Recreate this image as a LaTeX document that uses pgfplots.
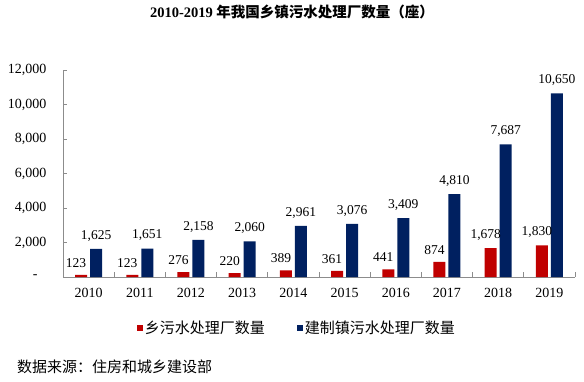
\documentclass[border=0pt]{standalone}
\usepackage{pgfplots}
\pgfplotsset{compat=1.18}
\usepackage{fontspec}
\setmainfont{Liberation Serif}
\newfontfamily\cjk{Noto Sans CJK SC}
\definecolor{myred}{HTML}{C00000}
\definecolor{mynavy}{HTML}{002060}
\definecolor{axgray}{HTML}{8C8C8C}
\begin{document}
\begin{tikzpicture}
\useasboundingbox (0,0) rectangle (584pt,381pt);
\node[font=\fontsize{14.5}{16}\selectfont\bfseries] at (292pt,369pt) {2010-2019 {\cjk 年我国乡镇污水处理厂数量（座）}};
\node[anchor=west, font=\fontsize{15}{17}\selectfont\cjk, inner sep=0pt] at (17pt,14pt) {数据来源：住房和城乡建设部};
\begin{axis}[
  at={(63pt,104pt)}, anchor=south west,
  scale only axis, width=512pt, height=207pt,
  xmin=-0.5, xmax=9.5, ymin=0, ymax=12000,
  ybar=3pt, bar width=12pt,
  axis x line*=bottom, axis y line*=left,
  axis line style={draw=axgray, line width=0.8pt},
  tick align=inside, major tick length=4pt, minor tick length=5pt,
  xtick={0,...,9},
  xticklabels={2010,2011,2012,2013,2014,2015,2016,2017,2018,2019},
  major x tick style={draw=none},
  minor xtick={-0.5,0.5,1.5,2.5,3.5,4.5,5.5,6.5,7.5,8.5,9.5},
  minor x tick style={draw=axgray, line width=0.8pt},
  scaled y ticks=false,
  ytick={0,2000,4000,6000,8000,10000,12000},
  yticklabels={{-\hspace*{9pt}},{2,000},{4,000},{6,000},{8,000},{10,000},{12,000}},
  major y tick style={draw=axgray, line width=0.8pt},
  tick label style={font=\fontsize{14}{16}\selectfont},
  yticklabel style={xshift=-13pt},
  xticklabel style={yshift=-8pt},
  /pgf/number format/1000 sep={,},
  /pgf/number format/assume math mode=true,
  nodes near coords,
  nodes near coords style={font=\fontsize{13.5}{15}\selectfont, text=black, yshift=4pt},
  legend style={at={(0.457,-0.246)}, anchor=center, draw=none, fill=none,
    legend columns=2, font=\fontsize{15}{17}\selectfont\cjk,
    /tikz/every even column/.append style={column sep=30pt},
    /tikz/every odd column/.append style={column sep=0pt}},
]
\addplot[fill=myred, draw=none,
  every node near coord/.append style={xshift=-5pt},
  legend image code/.code={\fill[myred] (0pt,-3pt) rectangle (6pt,3pt);}]
  coordinates {(0,123) (1,123) (2,276) (3,220) (4,389) (5,361) (6,441) (7,874) (8,1678) (9,1830)};
\addlegendentry{乡污水处理厂数量}
\addplot[fill=mynavy, draw=none,
  legend image code/.code={\fill[mynavy] (0pt,-3pt) rectangle (6pt,3pt);}]
  coordinates {(0,1625) (1,1651) (2,2158) (3,2060) (4,2961) (5,3076) (6,3409) (7,4810) (8,7687) (9,10650)};
\addlegendentry{建制镇污水处理厂数量}
\end{axis}
\end{tikzpicture}
\end{document}
